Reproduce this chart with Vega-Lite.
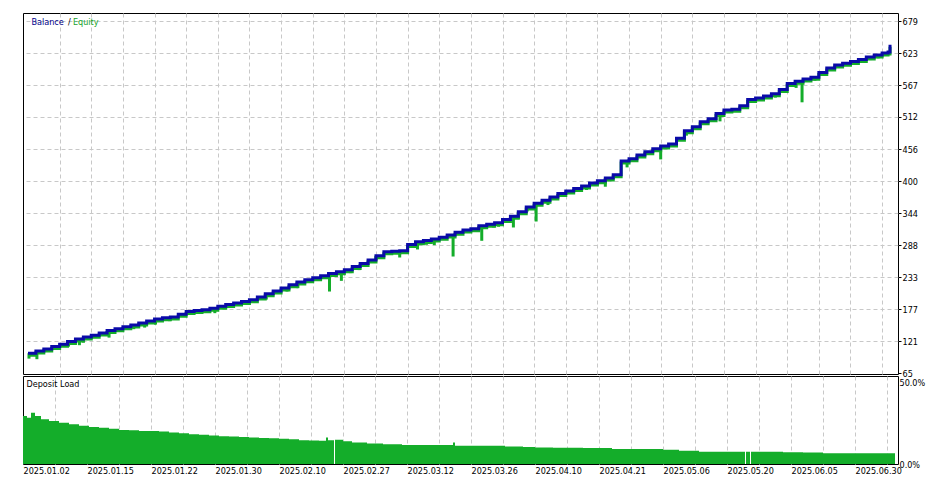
{
  "$schema": "https://vega.github.io/schema/vega-lite/v6.json",
  "padding": {"left": 21, "top": 12, "right": 0, "bottom": 0},
  "background": "white",
  "spacing": 2,
  "bounds": "flush",
  "config": {
    "view": {"stroke": "black", "strokeWidth": 1},
    "axis": {
      "labelFont": "DejaVu Sans Condensed, DejaVu Sans",
      "labelFontSize": 9,
      "labelColor": "black",
      "gridColor": "#c8c8c8",
      "gridDash": [4, 3],
      "gridWidth": 1,
      "title": null,
      "labelOverlap": false,
      "minExtent": 0
    },
    "axisY": {"orient": "right", "labelOverlap": false},
    "text": {"font": "DejaVu Sans Condensed, DejaVu Sans", "fontSize": 9}
  },
  "datasets": {
    "balance": [{"t":0,"balance":100.2},{"t":8,"balance":104.1},{"t":16,"balance":107.7},{"t":24,"balance":111.7},{"t":32,"balance":115.9},{"t":40,"balance":120.6},{"t":48,"balance":125.0},{"t":56,"balance":128.3},{"t":64,"balance":131.6},{"t":72,"balance":135.6},{"t":80,"balance":139.7},{"t":88,"balance":143.0},{"t":96,"balance":146.3},{"t":104,"balance":149.4},{"t":112,"balance":152.7},{"t":120,"balance":156.2},{"t":128,"balance":159.7},{"t":136,"balance":161.8},{"t":144,"balance":163.4},{"t":152,"balance":168.2},{"t":160,"balance":173.0},{"t":168,"balance":174.5},{"t":176,"balance":176.1},{"t":184,"balance":178.6},{"t":192,"balance":181.9},{"t":200,"balance":185.0},{"t":208,"balance":187.6},{"t":216,"balance":190.4},{"t":224,"balance":193.4},{"t":232,"balance":198.3},{"t":240,"balance":203.9},{"t":248,"balance":208.7},{"t":256,"balance":214.0},{"t":264,"balance":219.4},{"t":272,"balance":224.3},{"t":280,"balance":228.1},{"t":288,"balance":231.9},{"t":296,"balance":235.4},{"t":304,"balance":238.9},{"t":312,"balance":242.1},{"t":320,"balance":245.7},{"t":328,"balance":251.1},{"t":336,"balance":256.5},{"t":344,"balance":262.6},{"t":352,"balance":270.1},{"t":360,"balance":277.1},{"t":368,"balance":277.8},{"t":376,"balance":278.7},{"t":384,"balance":289.8},{"t":392,"balance":294.4},{"t":400,"balance":296.8},{"t":408,"balance":299.4},{"t":416,"balance":302.1},{"t":424,"balance":306.2},{"t":432,"balance":311.1},{"t":440,"balance":314.8},{"t":448,"balance":317.2},{"t":456,"balance":322.3},{"t":464,"balance":324.9},{"t":472,"balance":327.5},{"t":480,"balance":333.3},{"t":488,"balance":339.0},{"t":496,"balance":346.9},{"t":504,"balance":355.1},{"t":512,"balance":361.4},{"t":520,"balance":366.8},{"t":528,"balance":372.5},{"t":536,"balance":378.3},{"t":544,"balance":383.0},{"t":552,"balance":387.0},{"t":560,"balance":391.7},{"t":568,"balance":396.9},{"t":576,"balance":400.6},{"t":584,"balance":405.3},{"t":592,"balance":411.3},{"t":600,"balance":435.3},{"t":608,"balance":439.0},{"t":616,"balance":445.4},{"t":624,"balance":451.4},{"t":632,"balance":456.3},{"t":640,"balance":461.1},{"t":648,"balance":464.8},{"t":656,"balance":474.6},{"t":664,"balance":488.0},{"t":672,"balance":495.0},{"t":680,"balance":503.7},{"t":688,"balance":508.9},{"t":696,"balance":517.7},{"t":704,"balance":523.8},{"t":712,"balance":525.5},{"t":720,"balance":531.6},{"t":728,"balance":542.1},{"t":736,"balance":544.7},{"t":744,"balance":548.2},{"t":752,"balance":552.5},{"t":760,"balance":559.5},{"t":768,"balance":570.0},{"t":776,"balance":574.3},{"t":784,"balance":577.8},{"t":792,"balance":581.0},{"t":800,"balance":589.2},{"t":808,"balance":597.0},{"t":816,"balance":602.3},{"t":824,"balance":605.4},{"t":832,"balance":608.4},{"t":840,"balance":611.8},{"t":848,"balance":616.2},{"t":856,"balance":619.7},{"t":864,"balance":623.2},{"t":870,"balance":624.9},{"t":872,"balance":637.5}],
    "spikes": [{"t":1,"top":100.2,"low":90.8},{"t":9,"top":104.1,"low":89.8},{"t":41,"top":120.6,"low":111.7},{"t":52,"top":125.0,"low":114.2},{"t":56,"top":128.3,"low":118.7},{"t":82,"top":139.7,"low":127.4},{"t":107,"top":149.4,"low":142.1},{"t":118,"top":152.7,"low":144.9},{"t":129,"top":159.7,"low":150.1},{"t":143,"top":161.8,"low":156.1},{"t":189,"top":178.6,"low":170.0},{"t":214,"top":187.6,"low":182.7},{"t":241,"top":203.9,"low":193.7},{"t":262,"top":214.0,"low":207.7},{"t":273,"top":224.3,"low":213.6},{"t":305,"top":238.9,"low":207.7},{"t":317,"top":242.1,"low":226.3},{"t":326,"top":245.7,"low":239.8},{"t":335,"top":251.1,"low":245.0},{"t":352,"top":270.1,"low":262.5},{"t":376,"top":278.7,"low":267.0},{"t":394,"top":294.4,"low":281.0},{"t":403,"top":296.8,"low":289.1},{"t":411,"top":299.4,"low":288.6},{"t":430,"top":306.2,"low":268.7},{"t":459,"top":322.3,"low":296.1},{"t":471,"top":324.9,"low":319.3},{"t":476,"top":327.5,"low":320.5},{"t":491,"top":339.0,"low":319.3},{"t":496,"top":346.9,"low":334.0},{"t":505,"top":355.1,"low":347.2},{"t":514,"top":361.4,"low":329.8},{"t":526,"top":366.8,"low":358.4},{"t":545,"top":383.0,"low":377.6},{"t":553,"top":387.0,"low":383.3},{"t":565,"top":391.7,"low":384.6},{"t":572,"top":396.9,"low":393.3},{"t":584,"top":405.3,"low":390.3},{"t":606,"top":435.3,"low":424.0},{"t":627,"top":451.4,"low":445.6},{"t":640,"top":461.1,"low":437.9},{"t":666,"top":488.0,"low":479.3},{"t":686,"top":503.7,"low":499.7},{"t":700,"top":517.7,"low":504.2},{"t":722,"top":531.6,"low":526.4},{"t":740,"top":544.7,"low":540.3},{"t":756,"top":552.5,"low":545.6},{"t":777,"top":574.3,"low":562.5},{"t":783,"top":574.3,"low":537.4},{"t":796,"top":581.0,"low":575.0},{"t":819,"top":602.3,"low":597.9},{"t":831,"top":605.4,"low":600.9},{"t":852,"top":616.2,"low":611.0},{"t":860,"top":619.7,"low":614.0}],
    "load": [{"t":0,"load":29.6},{"t":4,"load":28.6},{"t":8,"load":31.6},{"t":12,"load":29.6},{"t":18,"load":27.6},{"t":26,"load":26.5},{"t":36,"load":25.4},{"t":46,"load":24.5},{"t":56,"load":23.6},{"t":66,"load":22.9},{"t":76,"load":22.4},{"t":86,"load":21.8},{"t":96,"load":21.0},{"t":106,"load":20.8},{"t":116,"load":20.4},{"t":126,"load":20.4},{"t":136,"load":20.0},{"t":146,"load":19.4},{"t":156,"load":18.9},{"t":166,"load":18.4},{"t":176,"load":18.0},{"t":186,"load":17.6},{"t":196,"load":17.2},{"t":206,"load":16.9},{"t":216,"load":16.7},{"t":226,"load":16.3},{"t":236,"load":16.1},{"t":246,"load":15.9},{"t":256,"load":15.6},{"t":266,"load":15.3},{"t":276,"load":14.7},{"t":286,"load":14.5},{"t":296,"load":14.3},{"t":303,"load":16.3},{"t":305,"load":14.7},{"t":311,"load":0},{"t":312,"load":14.9},{"t":320,"load":14.0},{"t":329,"load":13.2},{"t":344,"load":12.6},{"t":360,"load":12.2},{"t":379,"load":11.8},{"t":430,"load":13.2},{"t":432,"load":11.2},{"t":482,"load":10.8},{"t":500,"load":10.5},{"t":512,"load":10.2},{"t":530,"load":10.0},{"t":560,"load":9.9},{"t":580,"load":9.8},{"t":589,"load":9.2},{"t":640,"load":8.8},{"t":656,"load":8.1},{"t":676,"load":7.5},{"t":722,"load":0},{"t":723,"load":7.5},{"t":727,"load":0},{"t":728,"load":7.5},{"t":760,"load":7.3},{"t":780,"load":7.1},{"t":800,"load":6.7},{"t":872,"load":6.7}]
  },
  "vconcat": [
    {
      "width": 875,
      "height": 361,
      "encoding": {
        "x": {
          "field": "t",
          "type": "quantitative",
          "scale": {"domain": [0, 875], "nice": false, "zero": false},
          "axis": {"orient": "bottom", "values": [0,32,64,96,128,160,192,224,256,288,320,352,384,416,448,480,512,544,576,608,640,672,704,736,768,800,832,864], "labels": false, "ticks": false, "tickSize": 0, "labelPadding": 0, "domain": false, "grid": true, "maxExtent": 0, "offset": 0, "gridOpacity": {"condition": {"test": "datum.value === 0", "value": 0}, "value": 1}}
        },
        "y": {
          "field": "balance",
          "type": "quantitative",
          "scale": {"domain": [64, 693], "nice": false, "zero": false},
          "axis": {"orient": "right", "values": [65,121,177,233,288,344,400,456,512,567,623,679], "labelOverlap": false, "grid": true, "tickSize": 3, "tickColor": "black", "domain": false, "labelPadding": 1, "format": ".0f", "gridOpacity": {"condition": {"test": "datum.value === 65", "value": 0}, "value": 1}}
        }
      },
      "layer": [
        {
          "data": {"name": "balance"},
          "mark": {"type": "line", "interpolate": "step-after", "color": "#14ad2a", "strokeWidth": 3, "yOffset": 2}
        },
        {
          "data": {"name": "spikes"},
          "mark": {"type": "bar", "color": "#14ad2a", "width": 3},
          "encoding": {
            "y": {"field": "top", "type": "quantitative"},
            "y2": {"field": "low"}
          }
        },
        {
          "data": {"name": "balance"},
          "mark": {"type": "line", "interpolate": "step-after", "color": "#0a0aa8", "strokeWidth": 3}
        },
        {
          "data": {"values": [{"label": "Balance", "t": 3.5, "balance": 678}, {"label": "/", "t": 40.5, "balance": 678}, {"label": "Equity", "t": 45.5, "balance": 678}]},
          "mark": {"type": "text", "align": "left", "baseline": "middle"},
          "encoding": {
            "text": {"field": "label"},
            "color": {"field": "label", "type": "nominal", "scale": {"domain": ["Balance", "/", "Equity"], "range": ["#00008b", "#000000", "#17a32a"]}, "legend": null}
          }
        }
      ]
    },
    {
      "width": 875,
      "height": 88,
      "encoding": {
        "x": {
          "field": "t",
          "type": "quantitative",
          "scale": {"domain": [0, 875], "nice": false, "zero": false},
          "axis": {
            "orient": "bottom",
            "values": [0,32,64,96,128,160,192,224,256,288,320,352,384,416,448,480,512,544,576,608,640,672,704,736,768,800,832,864],
            "labelExpr": "datum.value % 64 === 0 ? ['2025.01.02','2025.01.15','2025.01.22','2025.01.30','2025.02.10','2025.02.27','2025.03.12','2025.03.26','2025.04.10','2025.04.21','2025.05.06','2025.05.20','2025.06.05','2025.06.30'][datum.value / 64] : ''",
            "labelAlign": "left",
            "labelBaseline": "top",
            "labelPadding": 2,
            "labelFlush": false,
            "labelOverlap": false,
            "ticks": false,
            "tickSize": 0,
            "domain": false,
            "grid": true,
            "gridOpacity": {"condition": {"test": "datum.value === 0", "value": 0}, "value": 1}
          }
        },
        "y": {
          "field": "load",
          "type": "quantitative",
          "scale": {"domain": [0, 54.3], "nice": false, "zero": true},
          "axis": {"orient": "right", "values": [0, 50], "labelOverlap": false, "labelExpr": "format(datum.value, '.1f') + '%'", "grid": false, "ticks": false, "tickSize": 0, "domain": false, "labelPadding": 1}
        }
      },
      "layer": [
        {
          "data": {"name": "load"},
          "mark": {"type": "area", "interpolate": "step-after", "color": "#14ad2a", "opacity": 1}
        },
        {
          "data": {"values": [{"label": "Deposit Load", "t": 3.5, "load": 49.3}]},
          "mark": {"type": "text", "align": "left", "baseline": "middle", "color": "#000000"},
          "encoding": {"text": {"field": "label"}}
        }
      ]
    }
  ]
}
